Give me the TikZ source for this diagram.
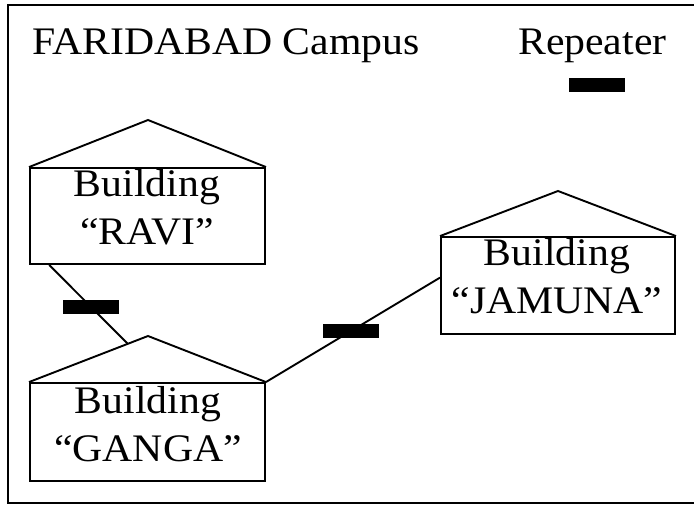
\documentclass[tikz,border=0pt]{standalone}
\usepackage{fontspec}
\setmainfont{Liberation Serif}[FakeStretch=1.07]
\usetikzlibrary{calc}
\tikzset{
  bigtext/.style={font=\fontsize{39}{47}\selectfont, inner sep=0pt},
  body/.style={draw, line width=1.9pt, minimum width=235pt, inner sep=0pt},
  wire/.style={line width=1.9pt},
  repbox/.style={fill=black, minimum width=56pt, minimum height=14pt, inner sep=0pt},
}
\begin{document}
\begin{tikzpicture}[x=1pt,y=1pt]
\useasboundingbox (0,0) rectangle (694,507);
% frame
\draw[line width=1.7pt] (694,502) -- (8,502) -- (8,4) -- (694,4);
% legend
\node[bigtext, anchor=base west] (title) at (32,452) {FARIDABAD Campus};
\node[bigtext, anchor=base west] (leg) at (518,452) {Repeater};
\node[repbox] (legrep) at (596.5,422) {};
% RAVI
\node[body, minimum height=96pt] (ravi) at (147.5,291) {};
\coordinate (ravi-apex) at (148,387);
\draw[wire] (ravi.north west) -- (ravi-apex) -- (ravi.north east);
\node[bigtext, anchor=base] (ravi1) at (147,310) {Building};
\node[bigtext, anchor=base] (ravi2) at (147,262) {“RAVI”};
% GANGA
\node[body, minimum height=98pt] (ganga) at (147.5,75) {};
\coordinate (ganga-apex) at (148,171);
\draw[wire] (ganga.north west) -- (ganga-apex) -- (ganga.north east);
\node[bigtext, anchor=base] (ganga1) at (148,94) {Building};
\node[bigtext, anchor=base] (ganga2) at (148,46) {“GANGA”};
% JAMUNA
\node[body, minimum width=234pt, minimum height=97pt] (jamuna) at (558,221.5) {};
\coordinate (jamuna-apex) at (558,316);
\draw[wire] (jamuna.north west) -- (jamuna-apex) -- (jamuna.north east);
\node[bigtext, anchor=base] (jamuna1) at (557,241) {Building};
\node[bigtext, anchor=base] (jamuna2) at (557,194) {“JAMUNA”};
% connectors
\coordinate (rg1) at ($(ravi.south west)!0.085!(ravi.south east)$);
\coordinate (rg2) at ($(ganga.north west)!0.83!(ganga-apex)$);
\draw[wire] (rg1) -- (rg2);
\node[repbox] (rep1) at ($(rg1)!0.53!(rg2)$) {};
\coordinate (gj2) at ($(jamuna.north west)!0.42!(jamuna.south west)$);
\draw[wire] (ganga.north east) -- (gj2);
\node[repbox] (rep2) at ($(ganga.north east)!0.49!(gj2)$) {};
\end{tikzpicture}
\end{document}
